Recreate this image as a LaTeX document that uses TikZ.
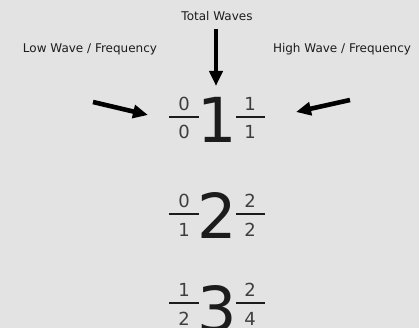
\documentclass[tikz,border=0pt]{standalone}
\usepackage{fontspec}
\setmainfont{DejaVu Sans}
\usetikzlibrary{arrows.meta}
\definecolor{bg}{HTML}{E3E3E3}
\definecolor{ink}{HTML}{1C1C1C}
\begin{document}
\begin{tikzpicture}[x=1pt,y=-1pt,
  lbl/.style={inner sep=0pt,text=ink,font=\fontsize{12}{12}\selectfont},
  big/.style={inner sep=0pt,text=ink,font=\fontsize{62}{62}\selectfont},
  fs/.style={inner sep=0pt,text=ink!85,font=\fontsize{18}{18}\selectfont},
  bar/.style={draw=ink,line width=1.6pt},
  arr/.style={draw=black,line width=4.6pt,-{Triangle[length=15pt,width=13pt]}}]
\fill[bg] (0,0) rectangle (419,328);
\useasboundingbox (0,0) rectangle (419,328);
\clip (0,0) rectangle (419,328);
% labels
\node[lbl] (total) at (217,16) {Total Waves};
\node[lbl] (low) at (90,49) {Low Wave / Frequency};
\node[lbl] (high) at (342,49) {High Wave / Frequency};
% row 1
\node[big] (one) at (217,119.5) {1};
\node[fs] (n1l) at (184,104) {0};
\node[fs] (d1l) at (184,132) {0};
\node[fs] (n1r) at (250,104) {1};
\node[fs] (d1r) at (250,132) {1};
\draw[bar] (169,117) -- (199,117);
\draw[bar] (236,117) -- (265,117);
% row 2
\node[big] (two) at (217,215) {2};
\node[fs] (n2l) at (184,201) {0};
\node[fs] (d2l) at (184,229.5) {1};
\node[fs] (n2r) at (250,201) {2};
\node[fs] (d2r) at (250,229.5) {2};
\draw[bar] (169,214) -- (199,214);
\draw[bar] (236,214) -- (265,214);
% row 3
\node[big] (three) at (217,309) {3};
\node[fs] (n3l) at (184,290) {1};
\node[fs] (d3l) at (184,318.5) {2};
\node[fs] (n3r) at (250,290) {2};
\node[fs] (d3r) at (250,318.5) {4};
\draw[bar] (169,303) -- (199,303);
\draw[bar] (236,303) -- (265,303);
% arrows
\coordinate (dtail) at (216,29);
\coordinate (dhead) at (216,86);
\coordinate (ltail) at (93,102);
\coordinate (lhead) at (148,115);
\coordinate (rtail) at (350,100);
\coordinate (rhead) at (296,112);
\draw[arr] (dtail) -- (dhead);
\draw[arr] (ltail) -- (lhead);
\draw[arr] (rtail) -- (rhead);
\end{tikzpicture}
\end{document}
